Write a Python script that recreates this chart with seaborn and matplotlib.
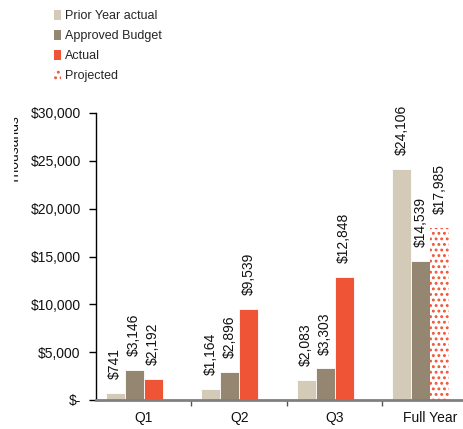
import matplotlib
matplotlib.use("Agg")
import matplotlib.pyplot as plt
from matplotlib.patches import Patch
from matplotlib.transforms import Bbox, TransformedBbox
import seaborn as sns
import pandas as pd

categories = ["Q1", "Q2", "Q3", "Full Year"]
prior_year = [741, 1164, 2083, 24106]
budget = [3146, 2896, 3303, 14539]
actual = [2192, 9539, 12848, 17985]   # Full Year value is projected
projected = [0, 0, 0, 0]               # legend-only series
series_names = ["Prior Year actual", "Approved Budget", "Actual", "Projected"]
yticks = [0, 5000, 10000, 15000, 20000, 25000, 30000]

c_prior = "#d3cab7"
c_budget = "#948671"
c_actual = "#f05436"

rows = []
for name, vals in zip(series_names, [prior_year, budget, actual, projected]):
    for cat, v in zip(categories, vals):
        rows.append({"cat": cat, "series": name, "value": v})
df = pd.DataFrame(rows)

sns.set_theme(style="white")
plt.rcParams["font.family"] = ["Liberation Sans", "DejaVu Sans"]
plt.rcParams["hatch.color"] = c_actual
plt.rcParams["hatch.linewidth"] = 1.3

fig = plt.figure(figsize=(4.64, 4.29), dpi=100)
ax = fig.add_axes([96 / 464, 29 / 429, 382 / 464, 287 / 429])

sns.barplot(data=df, x="cat", y="value", hue="series", order=categories,
            hue_order=series_names,
            palette=[c_prior, c_budget, c_actual, "white"], saturation=1,
            width=0.8, linewidth=0.6, edgecolor="white", ax=ax,
            legend=False, errorbar=None)

# style projected (Full Year actual) bar
actual_container = ax.containers[2]
proj_patch = actual_container.patches[3]
proj_patch.set_facecolor("white")
proj_patch.set_hatch("...")
proj_patch.set_edgecolor(c_actual)
proj_patch.set_linewidth(0)

fmt = lambda v: f"${v:,.0f}"
for i, cont in enumerate(ax.containers[:3]):
    ax.bar_label(cont, labels=[fmt(v) for v in cont.datavalues],
                 rotation=90, padding=10, fontsize=10, color="#111111")

ax.set_ylim(0, 30000)
ax.set_xlim(-0.5, 3.5)
ax.set_yticks(yticks)
ax.set_yticklabels(["$-" if t == 0 else f"${t:,.0f}" for t in yticks])
ax.set_xticks(range(len(categories)))
ax.set_xticklabels(categories)
ax.set_xlabel("")
ax.set_ylabel("")

# y-axis title, clipped at the left as in the reference
ylab = fig.text(19 / 464, (429 - 150) / 429, "Thousands", rotation=90,
                ha="center", va="baseline", rotation_mode="anchor",
                fontsize=10, color="#111111")
ylab.set_clip_box(TransformedBbox(Bbox.from_extents(14 / 464, 0, 1, 1),
                                  fig.transFigure))
ylab.set_clip_on(True)

ax.tick_params(axis="y", which="both", direction="out", length=5, width=1,
               color="black", labelsize=10, labelcolor="#111111", pad=6, left=True)
ax.tick_params(axis="x", which="major", length=0, labelsize=10,
               labelcolor="#111111", pad=8)
ax.set_xticks([0.5, 1.5, 2.5, 3.5], minor=True)
ax.tick_params(axis="x", which="minor", direction="out", length=4, width=1,
               color="#555555", bottom=True)

for s in ["top", "right"]:
    ax.spines[s].set_visible(False)
ax.spines["left"].set_color("black")
ax.spines["left"].set_linewidth(1)
ax.spines["bottom"].set_color("#808080")
ax.spines["bottom"].set_linewidth(2)

handles = [
    Patch(facecolor=c_prior, edgecolor="none"),
    Patch(facecolor=c_budget, edgecolor="none"),
    Patch(facecolor=c_actual, edgecolor="none"),
    Patch(facecolor="white", edgecolor=c_actual, hatch="...", linewidth=0),
]
fig.legend(handles, series_names, loc="upper left",
           bbox_to_anchor=(49 / 464, 1 - 5 / 429),
           frameon=False, fontsize=9, handlelength=0.6, handleheight=0.85,
           handletextpad=0.3, labelspacing=0.62, borderaxespad=0)

fig.savefig("out.png", dpi=100)
